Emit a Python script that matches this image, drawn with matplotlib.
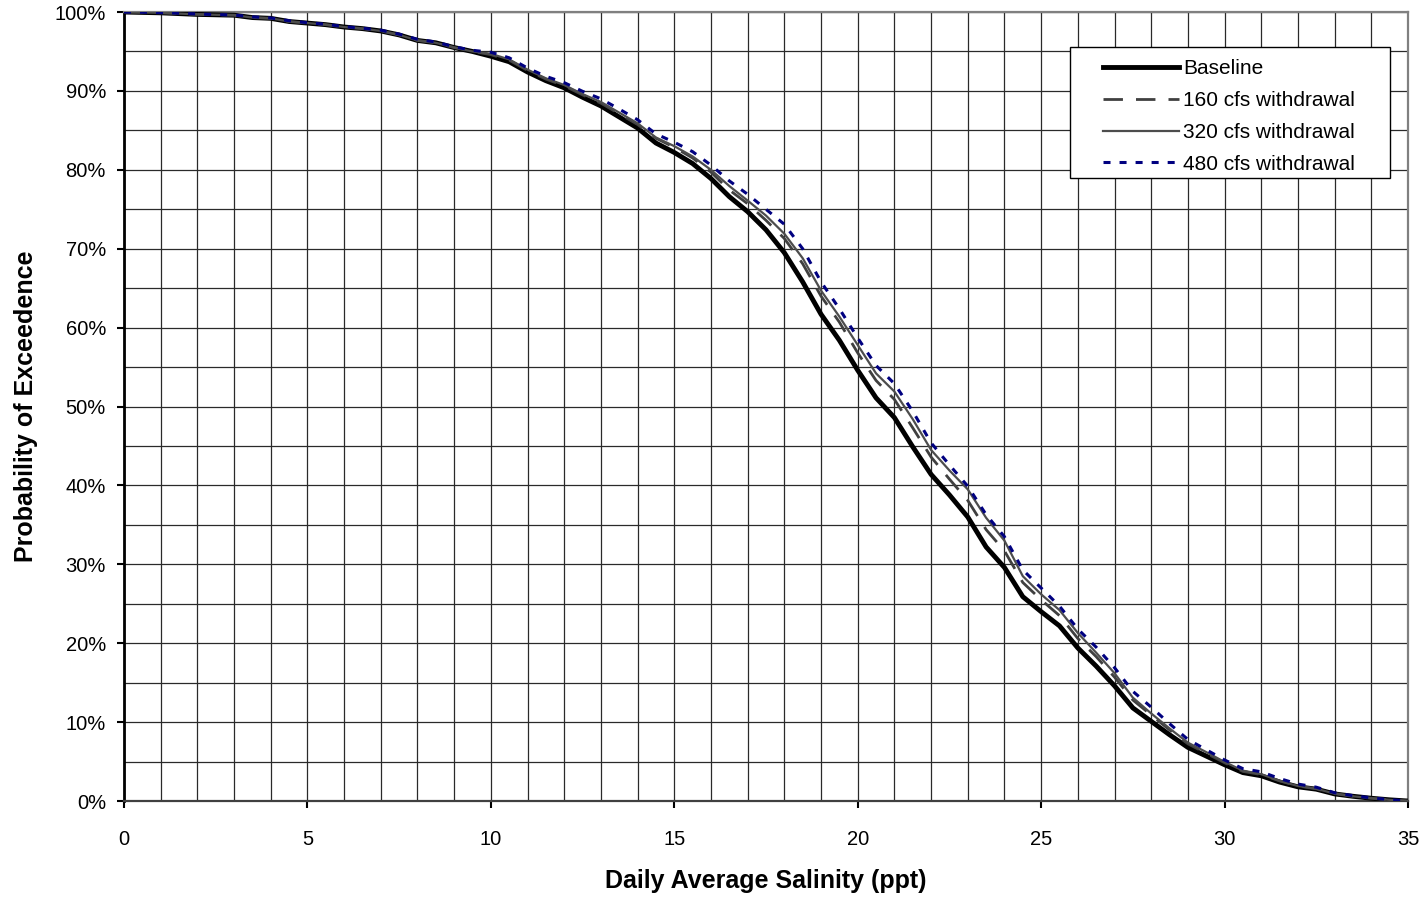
import matplotlib
matplotlib.use("Agg")
import matplotlib.pyplot as plt
from matplotlib.patches import Rectangle
from matplotlib.ticker import MultipleLocator, FuncFormatter

plt.rcParams['font.family'] = ['Liberation Sans', 'DejaVu Sans']

# Daily average salinity (ppt) sample points
salinity = [0, 0.5, 1, 1.5, 2, 2.5, 3, 3.5, 4, 4.5, 5, 5.5, 6, 6.5, 7, 7.5,
            8, 8.5, 9, 9.5, 10, 10.5, 11, 11.5, 12, 12.5, 13, 13.5, 14, 14.5,
            15, 15.5, 16, 16.5, 17, 17.5, 18, 18.5, 19, 19.5, 20, 20.5, 21,
            21.5, 22, 22.5, 23, 23.5, 24, 24.5, 25, 25.5, 26, 26.5, 27, 27.5,
            28, 28.5, 29, 29.5, 30, 30.5, 31, 31.5, 32, 32.5, 33, 33.5, 34,
            34.5, 35]

# Probability of exceedence (%) for each scenario
baseline = [100, 99.95, 99.9, 99.8, 99.7, 99.65, 99.6, 99.3, 99.2, 98.8, 98.6,
            98.4, 98.1, 97.9, 97.6, 97.1, 96.4, 96.1, 95.5, 95.0, 94.4, 93.7,
            92.4, 91.3, 90.4, 89.2, 88.1, 86.7, 85.3, 83.4, 82.2, 80.8, 78.9,
            76.6, 74.7, 72.4, 69.5, 65.8, 61.7, 58.4, 54.6, 51.1, 48.6, 44.9,
            41.4, 38.8, 36.0, 32.2, 29.6, 25.9, 24.0, 22.2, 19.4, 17.1, 14.6,
            11.8, 10.1, 8.4, 6.8, 5.7, 4.6, 3.6, 3.2, 2.4, 1.8, 1.5, 0.9, 0.6,
            0.35, 0.15, 0]

withdrawal_160 = [100, 99.95, 99.9, 99.8, 99.7, 99.65, 99.6, 99.3, 99.2, 98.8,
                  98.6, 98.4, 98.1, 97.9, 97.6, 97.1, 96.4, 96.1, 95.5, 95.0,
                  94.6, 93.9, 92.6, 91.5, 90.65, 89.5, 88.45, 87.1, 85.75, 84.0,
                  82.85, 81.5, 79.7, 77.45, 75.7, 73.6, 71.3, 68.1, 64.0, 60.7,
                  56.8, 53.3, 50.9, 47.3, 43.6, 40.8, 38.1, 34.4, 31.7, 27.7,
                  25.5, 23.5, 20.6, 18.3, 15.7, 12.8, 10.9, 9.0, 7.25, 6.05,
                  4.85, 3.75, 3.35, 2.55, 1.9, 1.55, 0.95, 0.6, 0.35, 0.15, 0]

withdrawal_320 = [100, 99.95, 99.9, 99.8, 99.7, 99.65, 99.6, 99.3, 99.2, 98.8,
                  98.6, 98.4, 98.1, 97.9, 97.6, 97.1, 96.4, 96.1, 95.5, 95.0,
                  94.7, 94.0, 92.7, 91.6, 90.75, 89.6, 88.6, 87.25, 85.9, 84.1,
                  83.0, 81.7, 80.0, 77.95, 76.1, 74.2, 71.9, 68.8, 64.7, 61.4,
                  57.8, 54.2, 51.9, 48.4, 44.5, 41.9, 39.5, 35.9, 33.0, 28.5,
                  26.2, 24.2, 21.3, 18.8, 16.2, 13.1, 11.1, 9.2, 7.4, 6.2,
                  4.95, 3.85, 3.4, 2.55, 1.9, 1.55, 0.93, 0.6, 0.35, 0.15, 0]

withdrawal_480 = [100, 99.97, 99.92, 99.85, 99.75, 99.68, 99.62, 99.4, 99.25,
                  98.9, 98.65, 98.45, 98.15, 97.95, 97.7, 97.2, 96.55, 96.2,
                  95.6, 95.15, 94.9, 94.2, 92.9, 91.85, 91.05, 89.95, 89.0,
                  87.7, 86.35, 84.55, 83.5, 82.3, 80.6, 78.6, 76.9, 75.0, 73.1,
                  70.0, 65.8, 62.4, 58.7, 55.2, 52.9, 49.4, 45.4, 42.6, 39.9,
                  36.3, 33.5, 29.3, 27.0, 24.7, 21.8, 19.5, 16.9, 13.9, 11.9,
                  9.8, 7.8, 6.5, 5.2, 4.1, 3.7, 2.85, 2.15, 1.75, 1.05, 0.68,
                  0.4, 0.17, 0]

series_labels = ["Baseline", "160 cfs withdrawal", "320 cfs withdrawal",
                 "480 cfs withdrawal"]

fig = plt.figure(figsize=(14.28, 8.98), dpi=100)
ax = fig.add_axes([0.0868, 0.108, 0.8992, 0.8786])

ax.plot(salinity, baseline, color='black', lw=3.5, label=series_labels[0],
        zorder=3, solid_joinstyle='round')
ax.plot(salinity, withdrawal_160, color='#404040', lw=2.0,
        linestyle=(0, (7.0, 4.7)), label=series_labels[1], zorder=4)
ax.plot(salinity, withdrawal_320, color='#4d4d4d', lw=1.6,
        label=series_labels[2], zorder=5)
ax.plot(salinity, withdrawal_480, color='#000080', lw=2.2,
        linestyle=(0, (2.3, 2.95)), label=series_labels[3], zorder=6)

ax.set_xlim(0, 35)
ax.set_ylim(0, 100)
ax.xaxis.set_major_locator(MultipleLocator(5))
ax.xaxis.set_minor_locator(MultipleLocator(1))
ax.yaxis.set_major_locator(MultipleLocator(10))
ax.yaxis.set_minor_locator(MultipleLocator(5))
ax.yaxis.set_major_formatter(FuncFormatter(lambda v, p: f"{int(round(v))}%"))

ax.grid(True, which='both', color='#2a2a2a', lw=0.9, zorder=1)
ax.set_axisbelow(True)

ax.tick_params(axis='both', which='major', direction='out', length=5,
               width=1.5, labelsize=14.5, color='black')
ax.tick_params(axis='y', which='major', pad=8)
ax.tick_params(axis='x', which='major', pad=16)
ax.tick_params(axis='both', which='minor', length=0)

ax.spines['left'].set_color('black')
ax.spines['left'].set_linewidth(2.0)
ax.spines['bottom'].set_color('#404040')
ax.spines['bottom'].set_linewidth(1.6)
for side in ('top', 'right'):
    ax.spines[side].set_color('#808080')
    ax.spines[side].set_linewidth(1.6)

ax.set_xlabel("Daily Average Salinity (ppt)", fontsize=18, fontweight='bold',
              labelpad=14)
ax.set_ylabel("Probability of Exceedence", fontsize=18, fontweight='bold',
              labelpad=12)

# Legend box
ax.add_patch(Rectangle((0.737, 0.7896), 0.249, 0.166, transform=ax.transAxes,
                       facecolor='white', edgecolor='black', lw=1.0,
                       zorder=7))
ax.legend(loc='upper left', bbox_to_anchor=(0.7625, 0.9405), frameon=False,
          fontsize=15, handlelength=3.65, handletextpad=0.2,
          labelspacing=0.62, borderpad=0, borderaxespad=0).set_zorder(8)

fig.savefig("out.png", dpi=100)
